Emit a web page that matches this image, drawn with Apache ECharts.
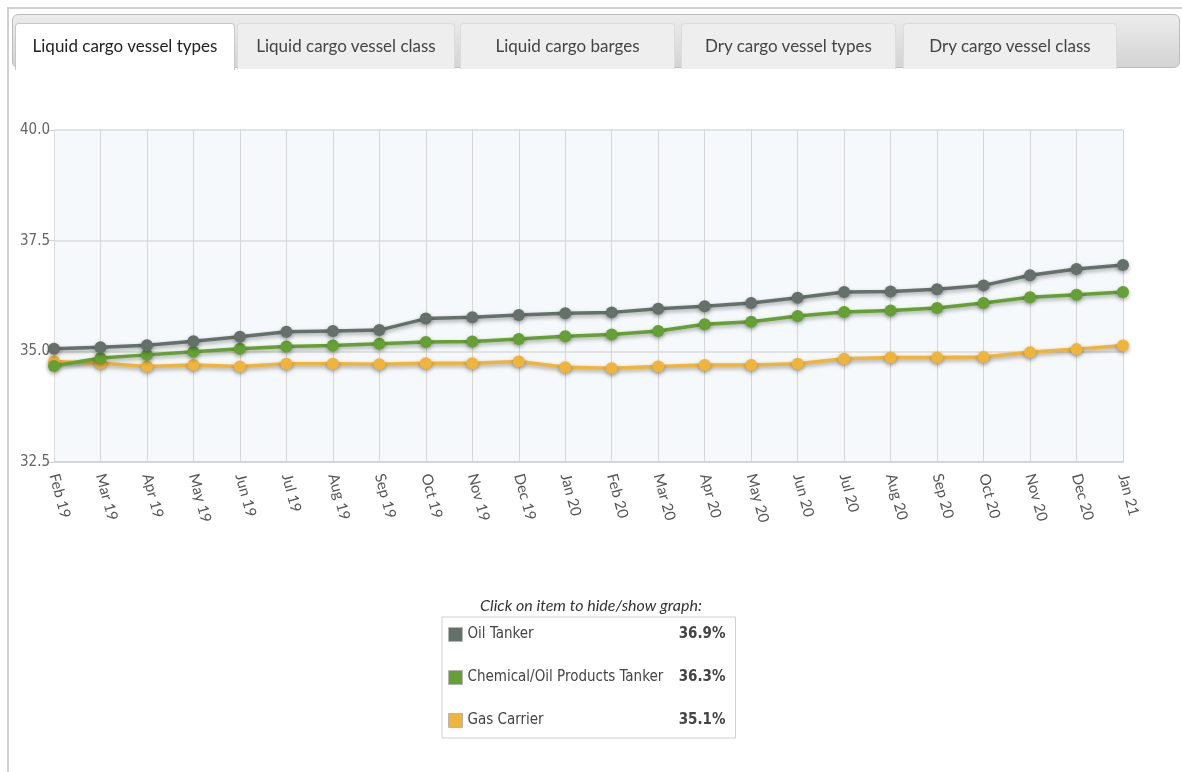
<!DOCTYPE html>
<html>
<head>
<meta charset="utf-8">
<script src="https://cdn.jsdelivr.net/npm/echarts@6/dist/echarts.min.js"></script>
<style>
  html, body { margin: 0; padding: 0; background: #fff; width: 1182px; height: 772px; overflow: hidden; }
  #frame { position: absolute; left: 7px; top: 7px; width: 1180px; height: 780px; border-top: 2px solid #d0d0d0; border-left: 2px solid #d0d0d0; box-sizing: border-box; }
  #chart { position: absolute; left: 0; top: 0; width: 1182px; height: 772px; }
  #tabbar { position: absolute; left: 12px; top: 14px; width: 1168px; height: 54px; box-sizing: border-box;
            background: linear-gradient(#ececec, #d4d4d4); border: 1px solid #bdbdbd; border-radius: 6px; z-index: 5; }
  .tab { position: absolute; top: 8px; height: 46px; box-sizing: border-box; background: #eeeeee; border: 1px solid #dcdcdc;
         border-bottom: none; border-radius: 4px 4px 0 0; font-family: Lato, sans-serif; font-size: 17px; color: #444;
         text-align: center; line-height: 44px; white-space: nowrap; }
  .tab.active { background: #fff; color: #222; border-color: #c8c8c8; height: 47px; }
</style>
</head>
<body>
<div id="frame"></div>
<div id="chart"></div>
<div id="tabbar">
  <div class="tab active" style="left:2px;width:220px;">Liquid cargo vessel types</div>
  <div class="tab" style="left:224px;width:218px;">Liquid cargo vessel class</div>
  <div class="tab" style="left:447px;width:215px;">Liquid cargo barges</div>
  <div class="tab" style="left:668px;width:215px;">Dry cargo vessel types</div>
  <div class="tab" style="left:890px;width:214px;">Dry cargo vessel class</div>
</div>
<script>
const categories = ["Feb 19","Mar 19","Apr 19","May 19","Jun 19","Jul 19","Aug 19","Sep 19","Oct 19","Nov 19","Dec 19",
  "Jan 20","Feb 20","Mar 20","Apr 20","May 20","Jun 20","Jul 20","Aug 20","Sep 20","Oct 20","Nov 20","Dec 20","Jan 21"];
const oilTanker = [35.06,35.09,35.14,35.23,35.33,35.44,35.46,35.48,35.74,35.77,35.82,35.86,35.88,35.96,36.02,36.09,36.21,36.34,36.35,36.40,36.49,36.72,36.86,36.95];
const chemTanker = [34.67,34.85,34.92,34.99,35.06,35.11,35.13,35.17,35.21,35.22,35.28,35.34,35.38,35.46,35.61,35.67,35.80,35.89,35.92,35.98,36.09,36.22,36.28,36.34];
const gasCarrier = [34.77,34.73,34.66,34.69,34.66,34.72,34.72,34.71,34.73,34.73,34.77,34.64,34.62,34.66,34.69,34.69,34.72,34.83,34.86,34.86,34.87,34.98,35.05,35.13];
const seriesNames = ["Oil Tanker","Chemical/Oil Products Tanker","Gas Carrier"];
const seriesData = [oilTanker, chemTanker, gasCarrier];
const seriesColors = ["#66706a","#64a032","#f0b43a"];
const legendValues = ["36.9%","36.3%","35.1%"];
const yTicks = [32.5, 40, 2.5]; // min, max, interval

const condensed = '"DejaVu Sans Condensed", "Liberation Sans Narrow", "DejaVu Sans", sans-serif';
const chart = echarts.init(document.getElementById('chart'), null, { renderer: 'canvas' });
chart.setOption({
  animation: false,
  title: {
    text: 'Click on item to hide/show graph:',
    left: 'center', top: 593,
    textStyle: { fontFamily: 'Lato, sans-serif', fontStyle: 'italic', fontWeight: 'normal', fontSize: 16, color: '#333' }
  },
  grid: { left: 54, right: 59, top: 130, bottom: 310, show: true, backgroundColor: '#f5f9fb', borderWidth: 0 },
  xAxis: {
    type: 'category', data: categories, boundaryGap: false,
    axisLine: { lineStyle: { color: '#d6d6d6', width: 2 } },
    axisTick: { show: false },
    splitLine: { show: true, lineStyle: { color: '#d6d6d6', width: 1 } },
    axisLabel: { rotate: -75, margin: 12, fontFamily: 'Lato, sans-serif', fontSize: 15, color: '#555', interval: 0 }
  },
  yAxis: {
    type: 'value', min: yTicks[0], max: yTicks[1], interval: yTicks[2],
    axisLine: { show: true, lineStyle: { color: '#dcdcdc' } },
    axisTick: { show: true, length: 7, lineStyle: { color: '#cfcfcf' } },
    splitLine: { show: true, lineStyle: { color: '#e2e2e2', width: 2 } },
    axisLabel: { formatter: v => v.toFixed(1), fontFamily: condensed, fontSize: 15, color: '#666', margin: 4 }
  },
  legend: {
    orient: 'vertical', left: 442, top: 617, width: 294,
    padding: [10, 10, 10, 6],
    borderColor: '#cfcfcf', borderWidth: 1,
    icon: 'rect', itemWidth: 14, itemHeight: 14, itemGap: 28,
    itemStyle: { borderColor: '#b5b5b5', borderWidth: 1 },
    selectedMode: true,
    data: seriesNames,
    formatter: name => {
      const i = seriesNames.indexOf(name);
      return '{n|' + name + '}{v|' + legendValues[i] + '}';
    },
    textStyle: {
      rich: {
        n: { width: 200, fontFamily: condensed, fontSize: 15, color: '#444' },
        v: { width: 58, align: 'right', fontFamily: condensed, fontSize: 15, fontWeight: 'bold', color: '#444' }
      }
    }
  },
  series: seriesNames.map((n, i) => ({
    name: n, type: 'line', data: seriesData[i], z: 10 - i,
    symbol: 'circle', symbolSize: 12,
    itemStyle: { color: seriesColors[i], shadowColor: 'rgba(0,0,0,0.35)', shadowBlur: 4, shadowOffsetY: 2 },
    lineStyle: { color: seriesColors[i], width: 3.5, shadowColor: 'rgba(0,0,0,0.35)', shadowBlur: 4, shadowOffsetY: 2 }
  }))
});
</script>
</body>
</html>
